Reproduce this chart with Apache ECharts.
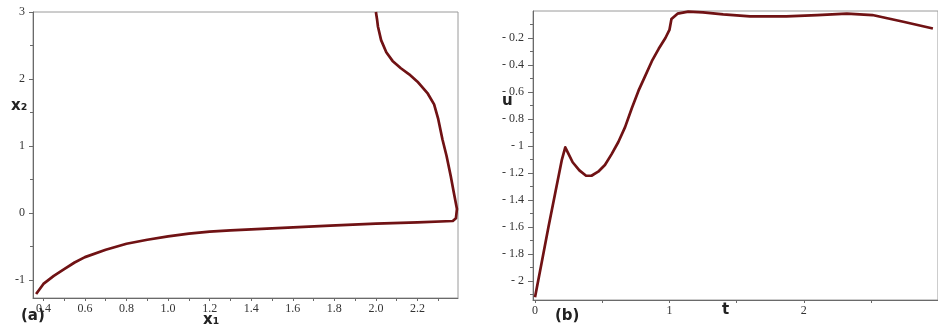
<!DOCTYPE html>
<html>
<head>
<meta charset="utf-8">
<script src="https://cdn.jsdelivr.net/npm/echarts@6/dist/echarts.min.js"></script>
<style>
  html, body { margin: 0; padding: 0; background: #fff; }
  #chart { width: 938px; height: 328px; }
</style>
</head>
<body>
<div id="chart"></div>
<script>
// panel (a): phase trajectory x1 -> x2
const curveA = [
  [0.365, -1.21], [0.40, -1.06], [0.45, -0.94], [0.50, -0.84], [0.55, -0.74],
  [0.60, -0.66], [0.70, -0.55], [0.80, -0.46], [0.90, -0.40], [1.00, -0.35],
  [1.10, -0.31], [1.20, -0.28], [1.30, -0.26], [1.50, -0.23], [1.78, -0.19],
  [2.00, -0.16], [2.20, -0.14], [2.37, -0.12], [2.385, -0.08], [2.39, 0.06],
  [2.375, 0.30], [2.36, 0.55], [2.34, 0.85], [2.32, 1.10], [2.30, 1.40],
  [2.28, 1.62], [2.25, 1.78], [2.20, 1.96], [2.16, 2.07], [2.12, 2.16],
  [2.08, 2.27], [2.05, 2.40], [2.025, 2.58], [2.01, 2.78], [2.005, 2.90],
  [2.00, 3.00]
]
// panel (b): control u over time t
const curveB = [
  [0.00, -2.12], [0.05, -1.86], [0.10, -1.60], [0.15, -1.35], [0.20, -1.10],
  [0.225, -1.01], [0.25, -1.06], [0.28, -1.12], [0.33, -1.18], [0.38, -1.22],
  [0.42, -1.22], [0.47, -1.19], [0.52, -1.14], [0.57, -1.06], [0.62, -0.97],
  [0.67, -0.86], [0.72, -0.72], [0.77, -0.59], [0.82, -0.48], [0.87, -0.37],
  [0.92, -0.28], [0.97, -0.20], [1.00, -0.14], [1.01, -0.13], [1.015, -0.06],
  [1.06, -0.02], [1.14, -0.005], [1.25, -0.01], [1.40, -0.025], [1.60, -0.04],
  [1.87, -0.04], [2.10, -0.03], [2.32, -0.02], [2.51, -0.03], [2.74, -0.08],
  [2.96, -0.13]
]

// tick positions
const ticksAx = [0.4, 0.6, 0.8, 1.0, 1.2, 1.4, 1.6, 1.8, 2.0, 2.2]
const minorAx = [0.5, 0.7, 0.9, 1.1, 1.3, 1.5, 1.7, 1.9, 2.1, 2.3]
const ticksAy = [-1, 0, 1, 2, 3]
const minorAy = [-0.5, 0.5, 1.5, 2.5]
const ticksBx = [0, 1, 2]
const minorBx = [0.5, 1.5, 2.5]
const ticksBy = [-2, -1.8, -1.6, -1.4, -1.2, -1, -0.8, -0.6, -0.4, -0.2]
const minorBy = [-2.1, -1.9, -1.7, -1.5, -1.3, -1.1, -0.9, -0.7, -0.5, -0.3, -0.1]

const lineColor = '#701214'
const axisColor = '#6a6a6a'
const labelFont = { color: '#333', fontFamily: 'Liberation Serif', fontSize: 12 }

const fmtMinus = v => (v < 0 ? '- ' + Math.abs(v) : String(v))

function mainAxis(gridIndex, position, min, max, ticks, fmt, tickLen, margin) {
  return {
    type: 'value', gridIndex, position, min, max,
    splitLine: { show: false },
    axisLine: { show: true, onZero: false, lineStyle: { color: axisColor, width: 1 } },
    axisTick: { show: true, length: tickLen, customValues: ticks, lineStyle: { color: axisColor } },
    axisLabel: Object.assign({ customValues: ticks, formatter: fmt, margin }, labelFont)
  }
}
function minorAxis(gridIndex, position, min, max, ticks) {
  return {
    type: 'value', gridIndex, position, min, max,
    splitLine: { show: false },
    axisLine: { show: false, onZero: false },
    axisTick: { show: true, length: 3, customValues: ticks, lineStyle: { color: axisColor } },
    axisLabel: { show: false }
  }
}

const chart = echarts.init(document.getElementById('chart'))

const option = {
  animation: false,
  backgroundColor: '#fff',
  grid: [
    { left: 33, top: 12, width: 425, height: 286, show: true, borderColor: '#9a9a9a', borderWidth: 1 },
    { left: 533, top: 11, width: 410, height: 289, show: true, borderColor: '#9a9a9a', borderWidth: 1 }
  ],
  xAxis: [
    mainAxis(0, 'bottom', 0.35, 2.395, ticksAx, v => v.toFixed(1), 3, 5),
    minorAxis(0, 'bottom', 0.35, 2.395, minorAx),
    mainAxis(1, 'bottom', -0.015, 2.998, ticksBx, v => String(v), 3, 5),
    minorAxis(1, 'bottom', -0.015, 2.998, minorBx)
  ],
  yAxis: [
    mainAxis(0, 'left', -1.27, 3.0, ticksAy, v => String(v), 4, 8),
    minorAxis(0, 'left', -1.27, 3.0, minorAy),
    mainAxis(1, 'left', -2.14, 0, ticksBy, fmtMinus, 5, 9),
    minorAxis(1, 'left', -2.14, 0, minorBy)
  ],
  series: [
    {
      type: 'line', xAxisIndex: 0, yAxisIndex: 0, data: curveA,
      showSymbol: false, smooth: false, silent: true,
      lineStyle: { color: lineColor, width: 2.7, join: 'round' }
    },
    {
      type: 'line', xAxisIndex: 2, yAxisIndex: 2, data: curveB,
      showSymbol: false, smooth: false, silent: true,
      lineStyle: { color: lineColor, width: 2.7, join: 'round' }
    }
  ],
  graphic: [
    { type: 'text', left: 11, top: 99, style: { text: 'x₂', font: 'bold 15px "DejaVu Sans"', fill: '#222' } },
    { type: 'text', left: 203, top: 313, style: { text: 'x₁', font: 'bold 15px "DejaVu Sans"', fill: '#222' } },
    { type: 'text', left: 21, top: 309, style: { text: '(a)', font: 'bold 15px "DejaVu Sans"', fill: '#222' } },
    { type: 'text', left: 555, top: 309, style: { text: '(b)', font: 'bold 15px "DejaVu Sans"', fill: '#222' } },
    { type: 'text', left: 502, top: 94, style: { text: 'u', font: 'bold 15px "DejaVu Sans"', fill: '#222' } },
    { type: 'text', left: 722, top: 303, style: { text: 't', font: 'bold 15px "DejaVu Sans"', fill: '#222' } }
  ]
}

chart.setOption(option)

window.addEventListener('resize', () => chart.resize())
</script>
</body>
</html>
